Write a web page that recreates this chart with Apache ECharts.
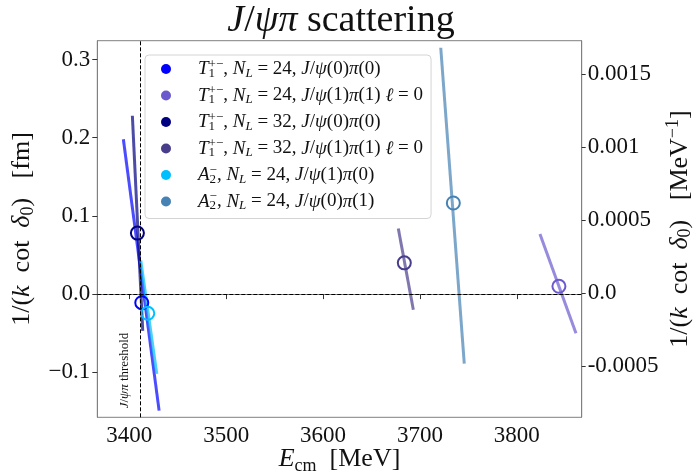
<!DOCTYPE html>
<html><head><meta charset="utf-8">
<script src="https://cdn.jsdelivr.net/npm/echarts@6/dist/echarts.min.js"></script>
<style>html,body{margin:0;padding:0;background:#fff}#c{width:696px;height:475px}</style>
</head><body><div id="c"></div>
<script>
// ---------- data ----------
const seriesKeys = ['T1_24_00', 'T1_24_11', 'T1_32_00', 'T1_32_11', 'A2_24_10', 'A2_24_01'];
const legendTexts = [
  '{sp|}{i|T}{sbz|1}{sup|+−}{r|, }{i|N}{sb|L}{r| = 24, }{i|J}{r|/}{i|ψ}{r|(0)}{i|π}{r|(0)}',
  '{sp|}{i|T}{sbz|1}{sup|+−}{r|, }{i|N}{sb|L}{r| = 24, }{i|J}{r|/}{i|ψ}{r|(1)}{i|π}{r|(1) }{i|ℓ}{r| = 0}',
  '{sp|}{i|T}{sbz|1}{sup|+−}{r|, }{i|N}{sb|L}{r| = 32, }{i|J}{r|/}{i|ψ}{r|(0)}{i|π}{r|(0)}',
  '{sp|}{i|T}{sbz|1}{sup|+−}{r|, }{i|N}{sb|L}{r| = 32, }{i|J}{r|/}{i|ψ}{r|(1)}{i|π}{r|(1) }{i|ℓ}{r| = 0}',
  '{sp|}{i|A}{sbz|2}{sup|−}{r|, }{i|N}{sb|L}{r| = 24, }{i|J}{r|/}{i|ψ}{r|(1)}{i|π}{r|(0)}',
  '{sp|}{i|A}{sbz|2}{sup|−}{r|, }{i|N}{sb|L}{r| = 24, }{i|J}{r|/}{i|ψ}{r|(0)}{i|π}{r|(1)}'
];

// lines: [E_cm (MeV), 1/(k cot d0) (fm)]
const line_T1_24_00 = [[3393.9, 0.198], [3430.8, -0.149]];
const line_T1_24_11 = [[3823.9, 0.077], [3861.1, -0.050]];
const line_T1_32_00 = [[3403.2, 0.228], [3413.9, -0.047]];
const line_T1_32_11 = [[3677.7, 0.084], [3693.2, -0.020]];
const line_A2_24_10 = [[3411.9, 0.043], [3428.4, -0.102]];
const line_A2_24_01 = [[3721.5, 0.315], [3745.8, -0.089]];

// points (open circles)
const point_T1_24_00 = [[3412.9, -0.011]];
const point_T1_24_11 = [[3843.5, 0.010]];
const point_T1_32_00 = [[3408.4, 0.078]];
const point_T1_32_11 = [[3683.9, 0.040]];
const point_A2_24_10 = [[3419.1, -0.0245]];
const point_A2_24_01 = [[3734.5, 0.1165]];

const xTicks = [3400, 3500, 3600, 3700, 3800];
const yTicksLeft = [-0.1, 0.0, 0.1, 0.2, 0.3];
const yTickLabelsLeft = ['−0.1', '0.0', '0.1', '0.2', '0.3'];
const yTicksRight = [-0.0005, 0.0, 0.0005, 0.001, 0.0015];
const yTickLabelsRight = ['-0.0005', '0.0', '0.0005', '0.001', '0.0015'];
const thresholdE = 3411;
const zeroLine = 0;

// ---------- style ----------
const lines = [line_T1_24_00, line_T1_24_11, line_T1_32_00, line_T1_32_11, line_A2_24_10, line_A2_24_01];
const points = [point_T1_24_00, point_T1_24_11, point_T1_32_00, point_T1_32_11, point_A2_24_10, point_A2_24_01];
const colors = ['#0000ff', '#6a5acd', '#000080', '#483d8b', '#00bfff', '#4682b4'];
const FONT = 'Liberation Serif';
const X_MIN = 3367, X_MAX = 3867;
const YL_MIN = -0.1575, YL_MAX = 0.324;
const YR_MIN = -0.000851, YR_MAX = 0.001728;

function richSet(size, lh, spW) {
  const small = Math.round(size * 0.68);
  const slh = Math.round(small * 1.1);
  const base = {fontFamily: FONT, fontWeight: 'normal', color: '#111'};
  return {
    r: Object.assign({fontSize: size, lineHeight: lh}, base),
    i: Object.assign({fontSize: size, lineHeight: lh, fontStyle: 'italic'}, base),
    sb: Object.assign({fontSize: small, lineHeight: slh, fontStyle: 'italic', verticalAlign: 'bottom'}, base),
    sbr: Object.assign({fontSize: small, lineHeight: slh, verticalAlign: 'bottom'}, base),
    sbz: Object.assign({fontSize: small, lineHeight: slh, verticalAlign: 'bottom', width: 0}, base),
    sup: Object.assign({fontSize: small, lineHeight: slh, verticalAlign: 'top'}, base),
    sp: {width: spW || 0, fontSize: size, lineHeight: lh}
  };
}

const series = [];
seriesKeys.forEach((k, idx) => {
  series.push({
    name: k, type: 'line', data: lines[idx], showSymbol: false, symbol: 'none',
    lineStyle: {width: 3, color: colors[idx], opacity: 0.7},
    itemStyle: {color: colors[idx]}, z: 3, silent: true, animation: false
  });
  series.push({
    name: k, type: 'scatter', data: points[idx], symbol: 'circle', symbolSize: 13,
    itemStyle: {color: 'rgba(0,0,0,0)', borderColor: colors[idx], borderWidth: 2, opacity: 1},
    z: 4, silent: true, animation: false
  });
});
series[0].markLine = {
  silent: true, symbol: ['none', 'none'], animation: false,
  lineStyle: {color: '#000', type: [4, 2], width: 1, opacity: 1},
  label: {show: false},
  data: [
    {xAxis: thresholdE, label: {show: true, position: 'insideStartTop', distance: 9,
      formatter: '{i|J}{r|/}{i|ψπ}{r| threshold}',
      rich: {
        r: {fontFamily: FONT, fontSize: 13, color: '#111'},
        i: {fontFamily: FONT, fontSize: 13, fontStyle: 'italic', color: '#111'}
      }}},
    {yAxis: zeroLine}
  ]
};

const chart = echarts.init(document.getElementById('c'), null, {renderer: 'canvas'});
const option = {
  animation: false,
  backgroundColor: '#fff',
  title: {
    text: '{i|J}{r|/}{i|ψπ}{r| scattering}',
    left: 336, top: -3, textAlign: 'center',
    textStyle: {fontWeight: 'normal', rich: {
      r: {fontFamily: FONT, fontSize: 38, fontWeight: 'normal', color: '#111'},
      i: {fontFamily: FONT, fontSize: 38, fontWeight: 'normal', fontStyle: 'italic', color: '#111'}
    }}
  },
  grid: {left: 97.3, right: 114.3, top: 40.7, bottom: 57.7, show: true, borderColor: '#808080', borderWidth: 1,
    backgroundColor: 'transparent', containLabel: false, outerBoundsMode: 'none'},
  legend: {
    orient: 'vertical', left: 145, top: 55,
    padding: [3, 8, 6, 16], itemGap: 4.5, itemWidth: 10, itemHeight: 10,
    backgroundColor: '#fff', borderColor: '#d4d4d4', borderWidth: 1, borderRadius: 4,
    selectedMode: false,
    data: seriesKeys.map((k, idx) => ({name: k, icon: 'circle', itemStyle: {color: colors[idx], opacity: 1, borderWidth: 0}})),
    formatter: (name) => legendTexts[seriesKeys.indexOf(name)],
    textStyle: {rich: richSet(19, 22, 22)}
  },
  xAxis: {
    type: 'value', min: X_MIN, max: X_MAX,
    name: '{i|E}{sbr|cm}{r|  [MeV]}', nameLocation: 'middle', nameGap: 26, nameMoveOverlap: false,
    nameTextStyle: {rich: richSet(26, 32)},
    axisLine: {show: true, lineStyle: {color: '#808080'}},
    axisTick: {show: true, length: 5, lineStyle: {color: '#333'}, customValues: xTicks},
    axisLabel: {customValues: xTicks, margin: 7, fontFamily: FONT, fontSize: 23, color: '#111',
      formatter: (v) => String(v)},
    splitLine: {show: false}
  },
  yAxis: [
    {
      type: 'value', position: 'left', min: YL_MIN, max: YL_MAX,
      name: '{r|1/(}{i|k}{r|  cot  }{i|δ}{sbr|0}{r|)   [fm]}', nameLocation: 'middle', nameGap: 60, nameRotate: 90, nameMoveOverlap: false,
      nameTextStyle: {rich: richSet(26, 30)},
      axisLine: {show: true, lineStyle: {color: '#808080'}},
      axisTick: {show: true, length: 5, lineStyle: {color: '#333'}, customValues: yTicksLeft},
      axisLabel: {customValues: yTicksLeft, margin: 7, fontFamily: FONT, fontSize: 23, color: '#111',
        formatter: (v) => { const i = yTicksLeft.findIndex(t => Math.abs(t - v) < 1e-9); return i >= 0 ? yTickLabelsLeft[i] : ''; }},
      splitLine: {show: false}
    },
    {
      type: 'value', position: 'right', min: YR_MIN, max: YR_MAX,
      name: '{r|1/(}{i|k}{r|  cot  }{i|δ}{sbr|0}{r|)   [MeV}{sup|−1}{r|]}', nameLocation: 'middle', nameGap: 83, nameRotate: 90, nameMoveOverlap: false,
      nameTextStyle: {rich: richSet(26, 30)},
      axisLine: {show: true, lineStyle: {color: '#808080'}},
      axisTick: {show: true, length: 4, lineStyle: {color: '#333'}, customValues: yTicksRight},
      axisLabel: {customValues: yTicksRight, margin: 6, fontFamily: FONT, fontSize: 23, color: '#111',
        formatter: (v) => { const i = yTicksRight.findIndex(t => Math.abs(t - v) < 1e-12); return i >= 0 ? yTickLabelsRight[i] : ''; }},
      splitLine: {show: false}
    }
  ],
  series: series
};
chart.setOption(option);
</script></body></html>
